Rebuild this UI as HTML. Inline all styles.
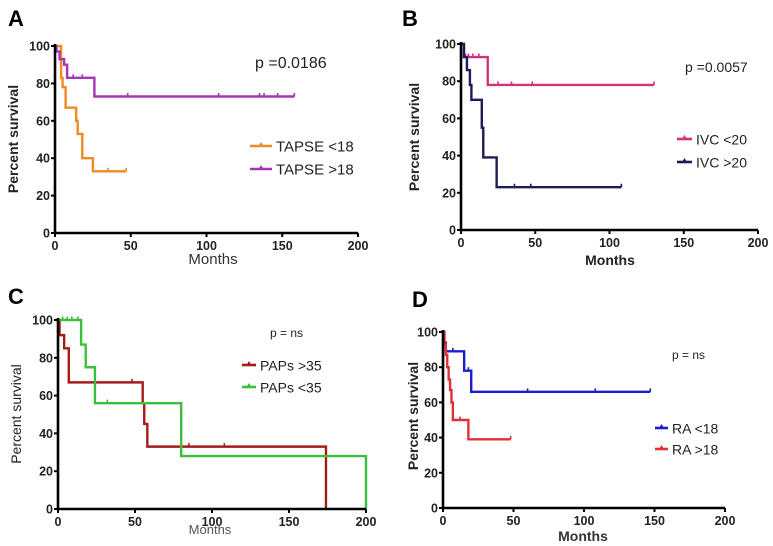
<!DOCTYPE html>
<html><head><meta charset="utf-8"><style>
html,body{margin:0;padding:0;background:#fff;}
svg{display:block;font-family:"Liberation Sans",Arial,sans-serif;}
</style></head><body>
<svg id="fig" width="773" height="546" viewBox="0 0 773 546"></svg>
<script>
// Panel A
const aOrangeT=[0,4,5,7,14,15,18,25];
const aOrangeS=[100,83,78,67,60,53,40,33];
const aOrangeEnd=47;
const aOrangeCens=[35,47];
const aPurpleT=[0,1,3,6,8,26];
const aPurpleS=[100,97,93,90,83,73];
const aPurpleEnd=158;
const aPurpleCens=[12,18,48,108,135,138,147,158];
// Panel B
const bPinkT=[0,2,18];
const bPinkS=[100,93,78];
const bPinkEnd=130;
const bPinkCens=[3,5,8,12,25,34,48,130];
const bNavyT=[0,2,4,6,7,14,15,24];
const bNavyS=[100,93,86,78,70,55,39,23];
const bNavyEnd=108;
const bNavyCens=[36,47,108];
// Panel C
const cRedT=[0,1,4,7,55,56,58,174];
const cRedS=[100,92,85,67,56,45,33,0];
const cRedEnd=174;
const cRedCens=[48,85,108];
const cGreenT=[0,15,18,24,80,200];
const cGreenS=[100,87,75,56,28,0];
const cGreenEnd=200;
const cGreenCens=[3,6,9,13,32];
// Panel D
const dBlueT=[0,1,2,15,20];
const dBlueS=[100,94,89,78,66];
const dBlueEnd=147;
const dBlueCens=[7,18,60,108,147];
const dRedT=[0,1,2,3,4,5,6,7,18];
const dRedS=[100,93,87,80,73,67,60,50,39];
const dRedEnd=48;
const dRedCens=[12,48];
const xTicks=[0,50,100,150,200];
const yTicks=[0,20,40,60,80,100];

const NS="http://www.w3.org/2000/svg";
const svg=document.getElementById('fig');
function mk(tag,attrs,parent,text){const e=document.createElementNS(NS,tag);for(const k in attrs)e.setAttribute(k,attrs[k]);if(text!==undefined)e.textContent=text;(parent||svg).appendChild(e);return e;}

function panel(p){
  const g=mk('g',{});
  
  
  const X=t=>p.x0+(p.x1-p.x0)*t/200, Y=s=>p.y0+(p.y1-p.y0)*s/100;
  const lab=mk('text',{x:p.lx,y:p.ly,'font-size':22,'font-weight':'bold',fill:'#000'},g,p.id);
  
  
  // series
  p.series.forEach(s=>{
    let d='M'+X(s.t[0])+','+Y(s.s[0]);
    for(let i=1;i<s.t.length;i++){d+=' H'+X(s.t[i])+' V'+Y(s.s[i]);}
    d+=' H'+X(s.end);
    const path=mk('path',{d:d,fill:'none',stroke:s.c,'stroke-width':2.4},g);
    
    
    s.cens.forEach(ct=>{
      let v=s.s[0];for(let i=0;i<s.t.length;i++){if(s.t[i]<=ct)v=s.s[i];}
      const c=mk('line',{x1:X(ct),x2:X(ct),y1:Y(v)-3.5,y2:Y(v),stroke:s.c,'stroke-width':1.6},g);
      
      
    });
  });
  // axes
  const ax=mk('path',{d:'M'+p.x0+','+(p.y1-2)+' V'+p.y0+' H'+p.x1,fill:'none',stroke:'#000','stroke-width':2.6},g);
  
  
  xTicks.forEach(v=>{
    mk('line',{x1:X(v),x2:X(v),y1:p.y0,y2:p.y0+4,stroke:'#000','stroke-width':2},g);
    const t=mk('text',{x:X(v),y:p.y0+17,'text-anchor':'middle','font-size':12.5,'font-weight':'bold',fill:'#222'},g,v);
    
    
  });
  yTicks.forEach(v=>{
    mk('line',{x1:p.x0-4,x2:p.x0,y1:Y(v),y2:Y(v),stroke:'#000','stroke-width':2},g);
    const t=mk('text',{x:p.x0-5,y:Y(v)+4.5,'text-anchor':'end','font-size':12.5,'font-weight':'bold',fill:'#222'},g,v);
    
    
  });
  const xt=mk('text',{x:p.mx,y:p.my,'text-anchor':'middle','font-size':p.mfs,'font-weight':p.mb?'bold':'normal',fill:p.mc},g,'Months');
  
  
  const yt=mk('text',{x:0,y:0,'text-anchor':'middle','font-size':p.yfs,'font-weight':p.yb?'bold':'normal',fill:'#222',transform:'translate('+p.yx+','+p.yy+') rotate(-90)'},g,'Percent survival');
  
  
  const pt=mk('text',{x:p.px,y:p.py,'font-size':p.pfs,fill:'#222'},g,p.ptext);
  
  
  p.series.forEach((s,i)=>{
    const yy=p.legY[i];
    const lg=mk('g',{},g);
    
    
    mk('line',{x1:p.legX,x2:p.legX+p.legW,y1:yy,y2:yy,stroke:s.c,'stroke-width':2.6},lg);
    mk('path',{d:'M'+(p.legX+p.legW/2-3)+','+(yy+1)+' l3,-5 l3,5z',fill:s.c},lg);
    mk('text',{x:p.legX+p.legW+4,y:yy+5.5,'font-size':p.lfs,fill:'#222'},lg,s.label);
  });
}

panel({id:'A',x0:55,x1:358,y0:233,y1:46,lx:8,ly:26,mx:213,my:264,mfs:15,mb:false,mc:'#333',yx:18,yy:139,yfs:14,yb:true,
  px:255,py:68,pfs:16,ptext:'p =0.0186',legX:250,legW:22,legY:[146,169],lfs:15,
  series:[{name:'tapse-lt-18',label:'TAPSE <18',c:'#f08a24',t:aOrangeT,s:aOrangeS,end:aOrangeEnd,cens:aOrangeCens},
          {name:'tapse-gt-18',label:'TAPSE >18',c:'#a834b8',t:aPurpleT,s:aPurpleS,end:aPurpleEnd,cens:aPurpleCens}]});
panel({id:'B',x0:461,x1:758,y0:230,y1:44,lx:402,ly:26,mx:610,my:265,mfs:14,mb:true,mc:'#222',yx:419,yy:137,yfs:14,yb:true,
  px:685,py:72,pfs:14,ptext:'p =0.0057',legX:677,legW:15,legY:[139,162],lfs:14,
  series:[{name:'ivc-lt-20',label:'IVC <20',c:'#d23378',t:bPinkT,s:bPinkS,end:bPinkEnd,cens:bPinkCens},
          {name:'ivc-gt-20',label:'IVC >20',c:'#1c1c58',t:bNavyT,s:bNavyS,end:bNavyEnd,cens:bNavyCens}]});
panel({id:'C',x0:58,x1:366,y0:509,y1:320,lx:8,ly:304,mx:210,my:534,mfs:13,mb:false,mc:'#555',yx:21,yy:414,yfs:14,yb:false,
  px:270,py:337,pfs:12,ptext:'p = ns',legX:242,legW:14,legY:[365,387],lfs:14,
  series:[{name:'paps-gt-35',label:'PAPs >35',c:'#a51c1c',t:cRedT,s:cRedS,end:cRedEnd,cens:cRedCens},
          {name:'paps-lt-35',label:'PAPs <35',c:'#3cbf3c',t:cGreenT,s:cGreenS,end:cGreenEnd,cens:cGreenCens}]});
panel({id:'D',x0:443,x1:725,y0:508,y1:332,lx:412,ly:307,mx:583,my:541,mfs:14,mb:true,mc:'#333',yx:418,yy:416,yfs:14,yb:true,
  px:672,py:359,pfs:12,ptext:'p = ns',legX:655,legW:13,legY:[428,449],lfs:14,
  series:[{name:'ra-lt-18',label:'RA <18',c:'#1c1cd0',t:dBlueT,s:dBlueS,end:dBlueEnd,cens:dBlueCens},
          {name:'ra-gt-18',label:'RA >18',c:'#e03232',t:dRedT,s:dRedS,end:dRedEnd,cens:dRedCens}]});
</script>
</body></html>
